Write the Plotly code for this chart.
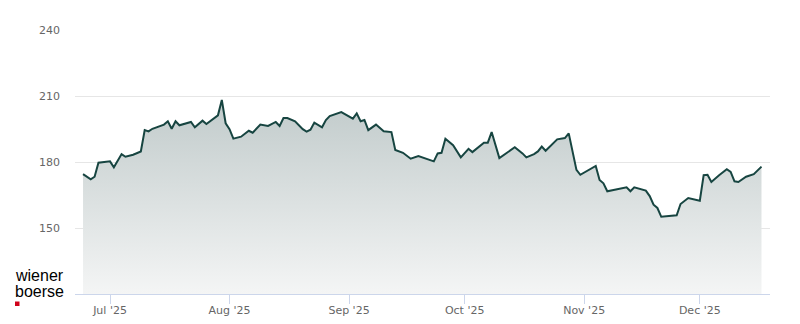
import plotly.graph_objects as go

dates = [
    "2025-06-24", "2025-06-26", "2025-06-27", "2025-06-28", "2025-07-01", "2025-07-02",
    "2025-07-04", "2025-07-05", "2025-07-07", "2025-07-09", "2025-07-10", "2025-07-11",
    "2025-07-12", "2025-07-15", "2025-07-16", "2025-07-17", "2025-07-18", "2025-07-19",
    "2025-07-22", "2025-07-23", "2025-07-25", "2025-07-26", "2025-07-29", "2025-07-30",
    "2025-07-31", "2025-08-01", "2025-08-02", "2025-08-04", "2025-08-06", "2025-08-07",
    "2025-08-09", "2025-08-11", "2025-08-13", "2025-08-14", "2025-08-15", "2025-08-16",
    "2025-08-18", "2025-08-20", "2025-08-21", "2025-08-22", "2025-08-23", "2025-08-25",
    "2025-08-26", "2025-08-27", "2025-08-30", "2025-09-02", "2025-09-03", "2025-09-04",
    "2025-09-05", "2025-09-06", "2025-09-08", "2025-09-10", "2025-09-12", "2025-09-13",
    "2025-09-15", "2025-09-17", "2025-09-19", "2025-09-23", "2025-09-24", "2025-09-25",
    "2025-09-26", "2025-09-28", "2025-09-30", "2025-10-02", "2025-10-03", "2025-10-06",
    "2025-10-07", "2025-10-08", "2025-10-10", "2025-10-14", "2025-10-16", "2025-10-17",
    "2025-10-19", "2025-10-20", "2025-10-21", "2025-10-22", "2025-10-25", "2025-10-27",
    "2025-10-28", "2025-10-30", "2025-10-31", "2025-11-04", "2025-11-05", "2025-11-06",
    "2025-11-07", "2025-11-12", "2025-11-13", "2025-11-14", "2025-11-17", "2025-11-18",
    "2025-11-19", "2025-11-20", "2025-11-21", "2025-11-25", "2025-11-26", "2025-11-28",
    "2025-12-01", "2025-12-02", "2025-12-03", "2025-12-04", "2025-12-06", "2025-12-08",
    "2025-12-09", "2025-12-10", "2025-12-11", "2025-12-13", "2025-12-15", "2025-12-17",
]
prices = [
    174.5, 172.1, 173.3, 179.7, 180.3, 177.6,
    183.6, 182.4, 183.3, 184.8, 194.5, 193.9,
    195.1, 197.0, 198.5, 195.1, 198.5, 196.7,
    198.2, 195.8, 198.8, 197.3, 201.2, 208.2,
    197.6, 194.9, 190.6, 191.5, 194.2, 193.3,
    197.0, 196.4, 198.2, 196.4, 200.0, 200.0,
    198.5, 194.9, 193.8, 194.7, 197.9, 195.8,
    199.1, 200.9, 202.7, 199.7, 202.1, 198.5,
    199.1, 194.5, 197.0, 194.0, 193.6, 185.5,
    184.2, 181.5, 182.7, 180.3, 183.9, 184.2,
    190.6, 187.6, 182.1, 186.0, 184.5, 188.8,
    188.8, 193.6, 181.8, 186.7, 183.9, 182.1,
    183.6, 184.8, 187.0, 185.1, 190.3, 190.9,
    193.0, 176.4, 174.2, 178.2, 171.8, 170.3,
    166.7, 168.5, 166.7, 168.5, 167.0, 164.5,
    160.6, 159.1, 155.1, 155.8, 160.9, 163.6,
    162.4, 174.0, 174.2, 170.9, 174.0, 176.7,
    175.5, 171.2, 170.9, 173.3, 174.5, 177.9,
]

y_ticks = [150, 180, 210, 240]
x_tick_vals = ["2025-07-01", "2025-08-01", "2025-09-01", "2025-10-01", "2025-11-01", "2025-12-01"]
x_tick_text = ["Jul '25", "Aug '25", "Sep '25", "Oct '25", "Nov '25", "Dec '25"]

W, H = 800, 324
ML, MR, MT, MB = 75, 30, 30, 30
PW, PH = W - ML - MR, H - MT - MB


def px(x):
    return (x - ML) / PW


def py(y):
    return (H - MB - y) / PH


fig = go.Figure()
fig.add_trace(go.Scatter(
    x=dates, y=prices, mode="lines",
    line=dict(color="#174541", width=2),
    fill="tozeroy",
    fillgradient=dict(
        type="vertical",
        colorscale=[[0, "rgb(244,245,245)"], [1, "rgb(192,202,202)"]],
        start=120, stop=210,
    ),
    hoverinfo="x+y",
    showlegend=False,
))

fig.update_layout(
    width=W, height=H,
    margin=dict(l=ML, r=MR, t=MT, b=MB, autoexpand=False),
    paper_bgcolor="white", plot_bgcolor="white",
    font=dict(family="DejaVu Sans", size=11, color="#666666"),
    xaxis=dict(
        type="date", automargin=False,
        range=["2025-06-21 22:00", "2025-12-19 05:00"],
        tickvals=x_tick_vals, ticktext=x_tick_text,
        showgrid=False, zeroline=False,
        showline=True, linecolor="#ccd6eb", linewidth=1,
        ticks="outside", ticklen=9, tickcolor="#ccd6eb", tickwidth=1,
        ticklabelstandoff=-3,
        tickfont=dict(size=11, color="#666666"),
    ),
    yaxis=dict(
        range=[120, 240], automargin=False,
        tickvals=y_ticks,
        showgrid=True, gridcolor="#e6e6e6", gridwidth=1,
        zeroline=False, showline=False,
        ticks="", ticklabelstandoff=14,
        tickfont=dict(size=11, color="#666666"),
    ),
    annotations=[
        dict(text="wiener", xref="paper", yref="paper", x=px(13), y=py(275.5),
             xanchor="left", yanchor="middle", showarrow=False,
             font=dict(family="Liberation Sans", size=16, color="#000000")),
        dict(text="boerse", xref="paper", yref="paper", x=px(13), y=py(291.5),
             xanchor="left", yanchor="middle", showarrow=False,
             font=dict(family="Liberation Sans", size=16, color="#000000")),
    ],
    shapes=[
        dict(type="rect", xref="paper", yref="paper",
             x0=px(15), x1=px(19.5), y0=py(306), y1=py(301.5),
             fillcolor="#d0021b", line=dict(width=0)),
    ],
)

fig.write_html("out.html")
